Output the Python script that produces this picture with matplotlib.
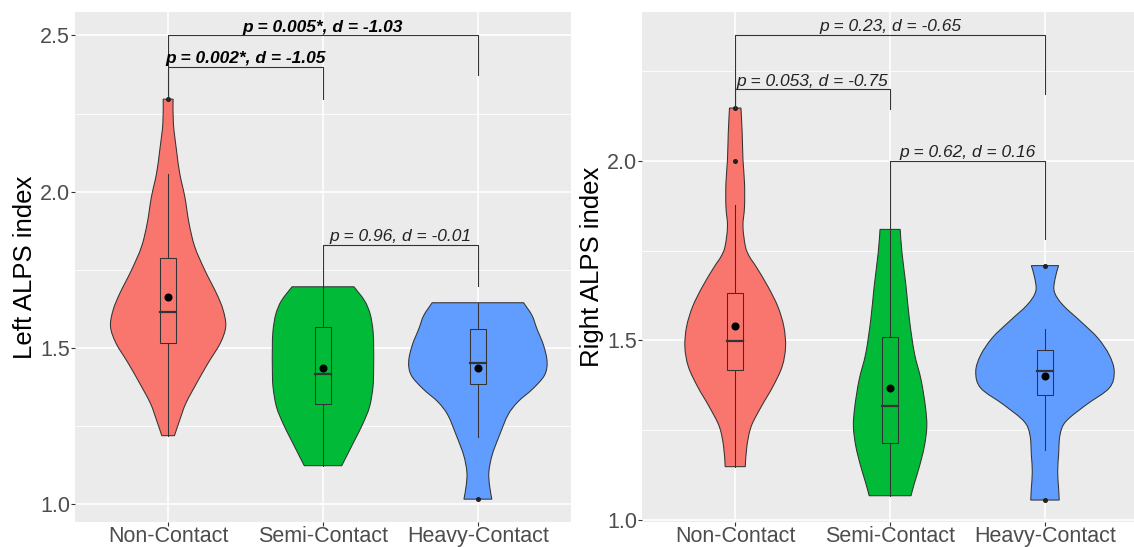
import numpy as np
import matplotlib.pyplot as plt
from matplotlib.patches import Rectangle, PathPatch
from matplotlib.path import Path

plt.rcParams['font.family'] = ['Liberation Sans', 'DejaVu Sans']

groups = ["Non-Contact", "Semi-Contact", "Heavy-Contact"]
fills = ["#F8766D", "#00BA38", "#619CFF"]

# violin outlines: y value and half width (category units)
left_non_y = [2.296, 2.218, 2.133, 2.058, 1.983, 1.899, 1.824, 1.749, 1.675, 1.622,
              1.569, 1.516, 1.452, 1.387, 1.323, 1.270, 1.220]
left_non_w = [0.032, 0.034, 0.054, 0.075, 0.108, 0.135, 0.172, 0.237, 0.312, 0.355,
              0.372, 0.337, 0.258, 0.183, 0.114, 0.075, 0.041]
left_semi_y = [1.696, 1.651, 1.608, 1.555, 1.501, 1.437, 1.377, 1.313, 1.259, 1.206, 1.124]
left_semi_w = [0.200, 0.269, 0.305, 0.323, 0.327, 0.327, 0.323, 0.301, 0.258, 0.205, 0.121]
left_heavy_y = [1.645, 1.604, 1.562, 1.509, 1.456, 1.413, 1.370, 1.328, 1.286, 1.222,
                1.158, 1.104, 1.062, 1.017]
left_heavy_w = [0.295, 0.350, 0.381, 0.424, 0.447, 0.430, 0.355, 0.258, 0.194, 0.140,
                0.092, 0.071, 0.075, 0.090]

right_non_y = [2.147, 2.077, 2.003, 1.938, 1.872, 1.817, 1.761, 1.733, 1.705, 1.650,
               1.594, 1.538, 1.482, 1.427, 1.371, 1.315, 1.260, 1.204, 1.148]
right_non_w = [0.037, 0.045, 0.050, 0.060, 0.060, 0.050, 0.066, 0.092, 0.135, 0.211,
               0.275, 0.314, 0.325, 0.303, 0.243, 0.168, 0.103, 0.075, 0.065]
right_semi_y = [1.809, 1.743, 1.650, 1.557, 1.464, 1.390, 1.315, 1.260, 1.204, 1.148, 1.102, 1.067]
right_semi_w = [0.065, 0.077, 0.103, 0.125, 0.157, 0.200, 0.228, 0.237, 0.221, 0.189, 0.157, 0.135]
right_heavy_y = [1.708, 1.673, 1.636, 1.599, 1.552, 1.507, 1.459, 1.413, 1.367, 1.320,
                 1.274, 1.236, 1.181, 1.134, 1.088, 1.055]
right_heavy_w = [0.088, 0.066, 0.060, 0.114, 0.232, 0.340, 0.415, 0.447, 0.415, 0.265,
                 0.135, 0.097, 0.088, 0.082, 0.088, 0.092]

# box stats per group
left_q1 = [1.517, 1.321, 1.384]
left_med = [1.614, 1.416, 1.451]
left_q3 = [1.787, 1.568, 1.560]
left_wlo = [1.220, 1.124, 1.216]
left_whi = [2.058, 1.696, 1.645]
left_mean = [1.663, 1.437, 1.435]
left_out = [[2.296], [], [1.017]]

right_q1 = [1.418, 1.215, 1.348]
right_med = [1.499, 1.318, 1.415]
right_q3 = [1.633, 1.509, 1.474]
right_wlo = [1.148, 1.067, 1.195]
right_whi = [1.877, 1.809, 1.532]
right_mean = [1.540, 1.367, 1.400]
right_out = [[2.147, 2.0], [], [1.708, 1.055]]

# brackets: x1, x2, bar y, left tip, right tip, label, bold
left_brackets = [
    (1, 3, 2.500, 2.296, 2.373, "p = 0.005*, d = -1.03", True),
    (1, 2, 2.399, 2.296, 2.297, "p = 0.002*, d = -1.05", True),
    (2, 3, 1.830, 1.696, 1.700, "p = 0.96, d = -0.01", False),
]
right_brackets = [
    (1, 3, 2.350, 2.147, 2.186, "p = 0.23, d = -0.65", False),
    (1, 2, 2.199, 2.147, 2.145, "p = 0.053, d = -0.75", False),
    (2, 3, 2.000, 1.809, 1.781, "p = 0.62, d = 0.16", False),
]


def smooth_side(px, py):
    # catmull-rom through the read points, as cubic bezier pieces
    p = np.column_stack([px, py])
    ext = np.vstack([p[0], p, p[-1]])
    verts, codes = [], []
    for k in range(len(p) - 1):
        a, b, c, d = ext[k], ext[k + 1], ext[k + 2], ext[k + 3]
        verts += [b + (c - a) / 6, c - (d - b) / 6, c]
        codes += [Path.CURVE4] * 3
    return verts, codes


def violin_path(c, vy, vw):
    vy = np.array(vy)
    vw = np.array(vw)
    lv, lc = smooth_side(c - vw, vy)
    rv, rc = smooth_side((c + vw)[::-1], vy[::-1])
    verts = [(c - vw[0], vy[0])] + lv + [((c + vw)[-1], vy[-1])] + rv + [(0, 0)]
    codes = [Path.MOVETO] + lc + [Path.LINETO] + rc + [Path.CLOSEPOLY]
    return Path(verts, codes)


def draw_panel(ax, violins, q1, med, q3, wlo, whi, means, outs, brackets,
               ylim, majors, minors):
    ax.set_facecolor("#EBEBEB")
    ax.set_xlim(0.4, 3.6)
    ax.set_ylim(*ylim)
    for s in ax.spines.values():
        s.set_visible(False)
    for y in minors:
        ax.axhline(y, color="white", lw=0.6, zorder=0)
    for y in majors:
        ax.axhline(y, color="white", lw=1.2, zorder=0)
    for x in (1, 2, 3):
        ax.axvline(x, color="white", lw=1.2, zorder=0)

    for i, (vy, vw) in enumerate(violins):
        c = i + 1
        ax.add_patch(PathPatch(violin_path(c, vy, vw), facecolor=fills[i],
                               edgecolor="#333333", lw=0.75, zorder=2))

        ax.plot([c, c], [q3[i], whi[i]], color="#333333", lw=0.75, zorder=3)
        ax.plot([c, c], [wlo[i], q1[i]], color="#333333", lw=0.75, zorder=3)
        ax.add_patch(Rectangle((c - 0.05, q1[i]), 0.1, q3[i] - q1[i],
                               facecolor=fills[i], edgecolor="#333333", lw=0.75, zorder=3))
        ax.plot([c - 0.05, c + 0.05], [med[i], med[i]], color="#333333", lw=1.6, zorder=4)
        for o in outs[i]:
            ax.plot(c, o, "o", color="#222222", ms=2.6, zorder=4)
        ax.plot(c, means[i], "o", color="black", ms=4.8, zorder=5)

    for x1, x2, yb, t1, t2, lab, bold in brackets:
        ax.plot([x1, x1, x2, x2], [t1, yb, yb, t2], color="#333333", lw=0.8, zorder=6)
        ax.annotate(lab, ((x1 + x2) / 2, yb), xytext=(0, 0.5), textcoords="offset points",
                    ha="center", va="bottom", fontsize=12.5, fontstyle="italic",
                    fontweight="bold" if bold else "normal",
                    color="black" if bold else "#222222", zorder=7)

    ax.set_xticks([1, 2, 3])
    ax.set_xticklabels(groups)
    ax.set_yticks(majors)
    ax.set_yticklabels(["%.1f" % v for v in majors])
    ax.tick_params(length=2.8, width=0.8, color="#333333", labelcolor="#4D4D4D",
                   labelsize=15.5)
    ax.tick_params(axis="y", pad=0.8)
    ax.tick_params(axis="x", pad=-0.3)


fig = plt.figure(figsize=(11.34, 5.47), dpi=100)
W, H = 1134, 547
axl = fig.add_axes([75.2 / W, 1 - 522.3 / H, 495.6 / W, 510.1 / H])
axr = fig.add_axes([642.3 / W, 1 - 522.3 / H, 495.6 / W, 510.1 / H])

draw_panel(axl,
           [(left_non_y, left_non_w), (left_semi_y, left_semi_w), (left_heavy_y, left_heavy_w)],
           left_q1, left_med, left_q3, left_wlo, left_whi, left_mean, left_out, left_brackets,
           (0.943, 2.574), [1.0, 1.5, 2.0, 2.5], [1.25, 1.75, 2.25])
draw_panel(axr,
           [(right_non_y, right_non_w), (right_semi_y, right_semi_w), (right_heavy_y, right_heavy_w)],
           right_q1, right_med, right_q3, right_wlo, right_whi, right_mean, right_out, right_brackets,
           (0.993, 2.414), [1.0, 1.5, 2.0], [1.25, 1.75, 2.25])

fig.text(24.8 / W, 1 - 267 / H, "Left ALPS index", rotation=90, ha="center", va="center",
         fontsize=18.5, color="black")
fig.text(591.5 / W, 1 - 267 / H, "Right ALPS index", rotation=90, ha="center", va="center",
         fontsize=18.5, color="black")

fig.savefig("out.png", dpi=100, facecolor="white")
